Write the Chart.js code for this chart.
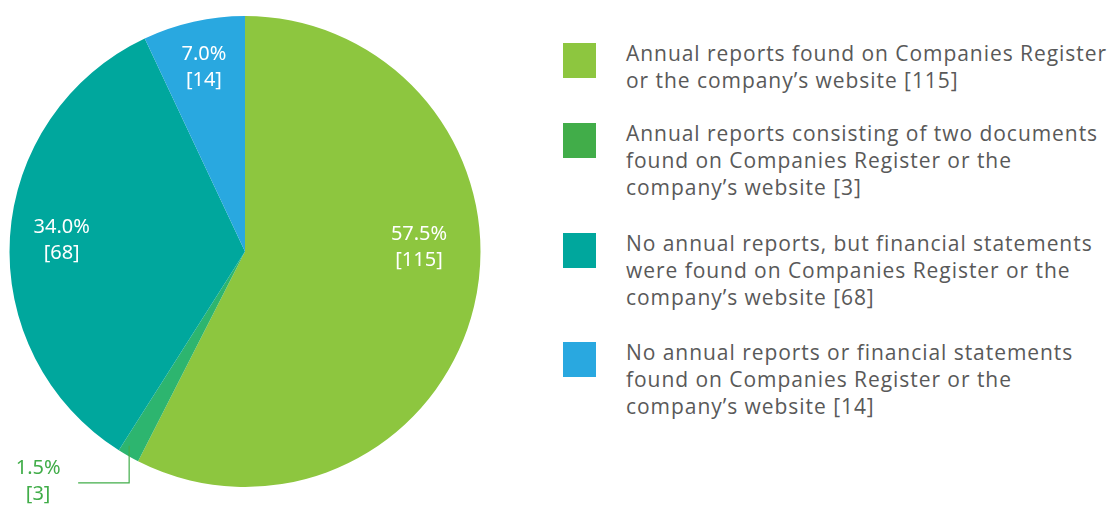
<!DOCTYPE html>
<html lang="en">
<head>
    <meta charset="UTF-8">
    <title>Annual reports pie</title>
    <script src="https://cdn.jsdelivr.net/npm/chart.js"></script>
</head>
<style>
    body { margin: 0; background: #fff; width: 1110px; height: 505px; position: relative; overflow: hidden; }
    .pie-box { position: absolute; left: 0; top: 0; width: 490px; height: 505px; }
    .legend { position: absolute; left: 563px; top: 0; width: 547px; font-family: "Open Sans", sans-serif; font-size: 21px; letter-spacing: 0.95px; line-height: 27px; color: #595959; }
    .legend .item { position: absolute; left: 0; width: 547px; }
    .legend .box { position: absolute; left: 0; width: 33px; height: 35px; }
    .legend .txt { position: absolute; left: 63px; width: 500px; white-space: nowrap; }
</style>
<body>
    <div class="pie-box"><canvas id="pieChart"></canvas></div>
    <div class="legend" id="legend"></div>

    <script>
        // data
        const categories = [
            "Annual reports found on Companies Register or the company\u2019s website",
            "Annual reports consisting of two documents found on Companies Register or the company\u2019s website",
            "No annual reports, but financial statements were found on Companies Register or the company\u2019s website",
            "No annual reports or financial statements found on Companies Register or the company\u2019s website"
        ];
        const counts = [115, 3, 68, 14];
        const percents = [57.5, 1.5, 34.0, 7.0];

        const sliceColors = ['#8DC63F', '#2DB56F', '#00A79D', '#29A8E0'];
        const legendColors = ['#8DC63F', '#41AD49', '#00A79D', '#29A8E0'];

        // legend on the right (html so the text wraps like the original)
        const legendLines = [
            ["Annual reports found on Companies Register", "or the company\u2019s website [115]"],
            ["Annual reports consisting of two documents", "found on Companies Register or the", "company\u2019s website [3]"],
            ["No annual reports, but financial statements", "were found on Companies Register or the", "company\u2019s website [68]"],
            ["No annual reports or financial statements", "found on Companies Register or the", "company\u2019s website [14]"]
        ];
        const legendTops = [40, 120, 230, 339];
        const legend = document.getElementById('legend');
        legendLines.forEach((lines, i) => {
            const item = document.createElement('div');
            item.className = 'item';
            item.style.top = legendTops[i] + 'px';
            item.innerHTML = '<div class="box" style="top:3px;background:' + legendColors[i] + '"></div>' +
                '<div class="txt">' + lines.join('<br>') + '</div>';
            legend.appendChild(item);
        });

        // labels on the slices, the tiny one gets a leader line
        const sliceLabels = {
            id: 'sliceLabels',
            afterDatasetsDraw(chart, args, opts) {
                const ctx = chart.ctx;
                const arcs = chart.getDatasetMeta(0).data;
                ctx.save();
                ctx.font = '20px "Noto Sans", sans-serif';
                ctx.textAlign = 'center';
                ctx.textBaseline = 'middle';
                arcs.forEach((arc, i) => {
                    const p = arc.getProps(['x', 'y', 'startAngle', 'endAngle', 'outerRadius'], true);
                    const mid = (p.startAngle + p.endAngle) / 2;
                    const line1 = percents[i].toFixed(1) + '%';
                    const line2 = '[' + counts[i] + ']';
                    if (opts.outside[i]) {
                        const ax = p.x + Math.cos(mid) * p.outerRadius * 0.95 - 5;
                        const ay = p.y + Math.sin(mid) * p.outerRadius * 0.95;
                        const ly = ay + 37;
                        ctx.strokeStyle = legendColors[i];
                        ctx.lineWidth = 1.2;
                        ctx.beginPath();
                        ctx.moveTo(ax, ay);
                        ctx.lineTo(ax, ly);
                        ctx.lineTo(ax - 51, ly);
                        ctx.stroke();
                        ctx.fillStyle = legendColors[i];
                        ctx.fillText(line1, ax - 91, ly - 15);
                        ctx.fillText(line2, ax - 91, ly + 11);
                    } else {
                        const r = p.outerRadius * opts.radius[i];
                        const x = p.x + Math.cos(mid) * r;
                        const y = p.y + Math.sin(mid) * r + opts.shiftY[i];
                        ctx.fillStyle = '#ffffff';
                        ctx.fillText(line1, x, y - 13);
                        ctx.fillText(line2, x, y + 13);
                    }
                });
                ctx.restore();
            }
        };

        const ctx = document.getElementById('pieChart').getContext('2d');
        const pieChart = new Chart(ctx, {
            type: 'pie',
            data: {
                labels: categories,
                datasets: [{
                    data: counts,
                    backgroundColor: sliceColors,
                    borderWidth: 0
                }]
            },
            options: {
                responsive: true,
                maintainAspectRatio: false,
                animation: false,
                rotation: 0,
                layout: { padding: { top: 16, bottom: 18, left: 0, right: 0 } },
                plugins: {
                    legend: { display: false },
                    tooltip: { enabled: false },
                    sliceLabels: {
                        outside: [false, true, false, false],
                        radius: [0.76, 1, 0.78, 0.8],
                        shiftY: [-46, 0, 0, 0]
                    }
                }
            },
            plugins: [sliceLabels]
        });
    </script>
</body>
</html>
